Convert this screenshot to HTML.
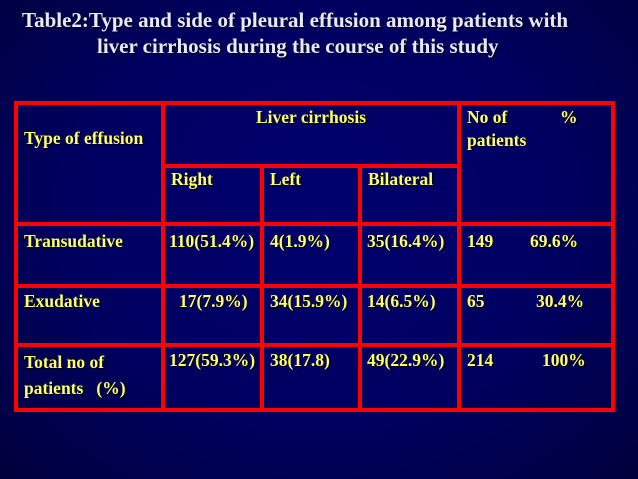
<!DOCTYPE html>
<html><head><meta charset="utf-8"><style>
body{margin:0;width:638px;height:479px;overflow:hidden;background:radial-gradient(ellipse at 50% 45%,#00006e 0%,#000060 55%,#00003c 100%);font-family:"Liberation Serif",serif;position:relative}
.t{position:absolute;color:#e8e8ff;font-weight:bold;font-size:21px;line-height:24px;white-space:nowrap;text-shadow:1px 1px 1px #000}
.c{position:absolute;color:#ffff66;font-weight:bold;font-size:17.5px;white-space:nowrap;line-height:23px;text-shadow:1px 1px 1px #000}
.h{position:absolute;background:#ff0000;height:4px}
.v{position:absolute;background:#ff0000;width:4px}
</style></head><body>
<div class="t" style="left:22px;top:8px">Table2:Type and side of pleural effusion among patients with</div>
<div class="t" style="left:97px;top:34px">liver cirrhosis during the course of this study</div>
<div>
<div class="h" style="left:14px;top:101px;width:601px"></div>
<div class="h" style="left:161px;top:164px;width:299px"></div>
<div class="h" style="left:14px;top:222px;width:601px"></div>
<div class="h" style="left:14px;top:284px;width:601px"></div>
<div class="h" style="left:14px;top:343px;width:601px"></div>
<div class="h" style="left:14px;top:408px;width:601px"></div>
<div class="v" style="left:14px;top:101px;height:311px"></div>
<div class="v" style="left:161px;top:101px;height:311px"></div>
<div class="v" style="left:260px;top:164px;height:248px"></div>
<div class="v" style="left:358px;top:164px;height:248px"></div>
<div class="v" style="left:457px;top:101px;height:311px"></div>
<div class="v" style="left:611px;top:101px;height:311px"></div>
</div>
<div class="c" style="left:24px;top:127px">Type of effusion</div>
<div class="c" style="left:256px;top:106px">Liver cirrhosis</div>
<div class="c" style="left:467px;top:106px">No of<br>patients</div>
<div class="c" style="left:560px;top:106px">%</div>
<div class="c" style="left:171px;top:168px">Right</div>
<div class="c" style="left:270px;top:168px">Left</div>
<div class="c" style="left:368px;top:168px">Bilateral</div>

<div class="c" style="left:24px;top:230px">Transudative</div>
<div class="c" style="left:169px;top:230px">110(51.4%)</div>
<div class="c" style="left:270px;top:230px">4(1.9%)</div>
<div class="c" style="left:367px;top:230px">35(16.4%)</div>
<div class="c" style="left:467px;top:230px">149</div>
<div class="c" style="left:530px;top:230px">69.6%</div>

<div class="c" style="left:24px;top:290px">Exudative</div>
<div class="c" style="left:179px;top:290px">17(7.9%)</div>
<div class="c" style="left:270px;top:290px">34(15.9%)</div>
<div class="c" style="left:367px;top:290px">14(6.5%)</div>
<div class="c" style="left:467px;top:290px">65</div>
<div class="c" style="left:536px;top:290px">30.4%</div>

<div class="c" style="left:24px;top:349px;line-height:26px">Total no of<br>patients &nbsp;&nbsp;(%)</div>
<div class="c" style="left:169px;top:349px">127(59.3%)</div>
<div class="c" style="left:270px;top:349px">38(17.8)</div>
<div class="c" style="left:367px;top:349px">49(22.9%)</div>
<div class="c" style="left:467px;top:349px">214</div>
<div class="c" style="left:542px;top:349px">100%</div>
</body></html>
